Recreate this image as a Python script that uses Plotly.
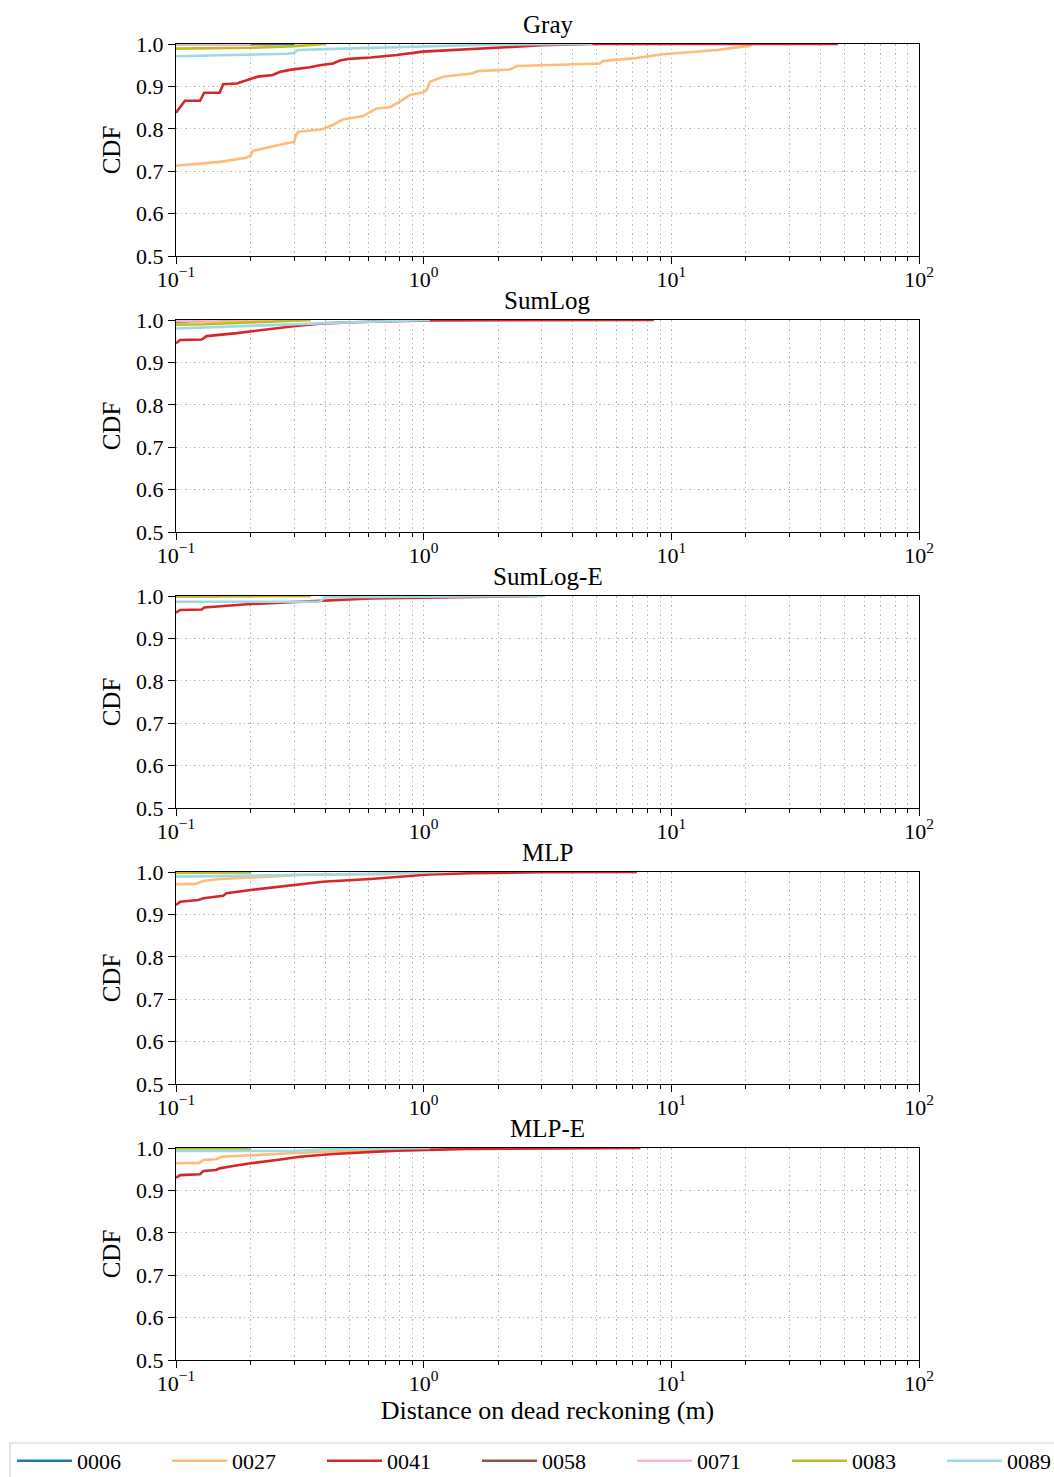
import plotly.graph_objects as go

# ---------------------------------------------------------------- data
SERIES = ["0006", "0027", "0041", "0058", "0071", "0083", "0089"]
PANELS = ["Gray", "SumLog", "SumLog-E", "MLP", "MLP-E"]
Y_TICKS = [0.5, 0.6, 0.7, 0.8, 0.9, 1.0]
X_TICKS = [0.1, 1, 10, 100]
X_TICK_TEXT = ["10<sup>−1</sup>", "10<sup>0</sup>", "10<sup>1</sup>", "10<sup>2</sup>"]

# Gray
gray_0006_x = [0.1, 0.3]
gray_0006_y = [1.0, 1.0]
gray_0027_x = [0.1, 0.15, 0.19, 0.2, 0.204, 0.232, 0.28, 0.30, 0.305, 0.312, 0.39, 0.43,
               0.472, 0.569, 0.646, 0.731, 0.802, 0.88, 1.0, 1.03, 1.06, 1.2, 1.58, 1.65,
               2.23, 2.38, 5.15, 5.3, 7.0, 9.25, 15.3, 20.2, 21.3]
gray_0027_y = [0.713, 0.722, 0.731, 0.737, 0.748, 0.756, 0.766, 0.769, 0.785, 0.793, 0.799, 0.809,
               0.822, 0.830, 0.848, 0.851, 0.864, 0.880, 0.886, 0.892, 0.911, 0.923, 0.931, 0.936,
               0.940, 0.948, 0.954, 0.960, 0.966, 0.976, 0.986, 0.995, 1.0]
gray_0041_x = [0.1, 0.1087, 0.125, 0.13, 0.15, 0.155, 0.176, 0.199, 0.214, 0.246, 0.262, 0.288,
               0.316, 0.347, 0.381, 0.43, 0.46, 0.50, 0.61, 0.78, 0.99, 1.54, 2.3, 3.0, 4.8, 47]
gray_0041_y = [0.838, 0.866, 0.866, 0.885, 0.885, 0.905, 0.907, 0.917, 0.923, 0.927, 0.934, 0.939,
               0.942, 0.945, 0.950, 0.954, 0.961, 0.965, 0.968, 0.974, 0.982, 0.988, 0.992, 0.997, 1.0, 1.0]
gray_0058_x = [0.1, 0.25]
gray_0058_y = [1.0, 1.0]
gray_0071_x = [0.1, 0.2]
gray_0071_y = [1.0, 1.0]
gray_0083_x = [0.1, 0.2, 0.3, 0.4]
gray_0083_y = [0.989, 0.991, 0.995, 1.0]
gray_0089_x = [0.1, 0.2, 0.28, 0.3, 0.31, 0.4, 1.5, 2.0, 4.8]
gray_0089_y = [0.971, 0.974, 0.977, 0.979, 0.986, 0.988, 0.996, 0.999, 1.0]

# SumLog
sumlog_0006_x = [0.1, 0.2]
sumlog_0006_y = [1.0, 1.0]
sumlog_0027_x = [0.1, 0.2, 0.35]
sumlog_0027_y = [0.996, 0.997, 1.0]
sumlog_0041_x = [0.1, 0.104, 0.127, 0.133, 0.176, 0.211, 0.242, 0.31, 0.39, 0.61, 1.05, 8.5]
sumlog_0041_y = [0.945, 0.953, 0.954, 0.962, 0.969, 0.975, 0.980, 0.9866, 0.992, 0.996, 0.999, 1.0]
sumlog_0058_x = [0.1, 0.13]
sumlog_0058_y = [0.996, 1.0]
sumlog_0071_x = [0.1, 0.15]
sumlog_0071_y = [0.998, 1.0]
sumlog_0083_x = [0.1, 0.13, 0.24, 0.35]
sumlog_0083_y = [0.989, 0.990, 0.996, 1.0]
sumlog_0089_x = [0.1, 0.13, 0.24, 0.42, 0.7, 1.06]
sumlog_0089_y = [0.980, 0.982, 0.988, 0.993, 0.997, 1.0]

# SumLog-E
sumloge_0006_x = [0.1, 0.2]
sumloge_0006_y = [1.0, 1.0]
sumloge_0027_x = [0.1, 0.35]
sumloge_0027_y = [0.999, 1.0]
sumloge_0041_x = [0.1, 0.104, 0.127, 0.13, 0.2, 0.31, 0.41, 0.61, 0.98, 2.9]
sumloge_0041_y = [0.961, 0.967, 0.968, 0.973, 0.981, 0.9866, 0.9906, 0.994, 0.996, 1.0]
sumloge_0058_x = [0.1, 0.15]
sumloge_0058_y = [1.0, 1.0]
sumloge_0071_x = [0.1, 0.15]
sumloge_0071_y = [1.0, 1.0]
sumloge_0083_x = [0.1, 0.35]
sumloge_0083_y = [1.0, 1.0]
sumloge_0089_x = [0.1, 0.38, 0.4, 3.1]
sumloge_0089_y = [0.9866, 0.9866, 0.997, 1.0]

# MLP
mlp_0006_x = [0.1, 0.2]
mlp_0006_y = [1.0, 1.0]
mlp_0027_x = [0.1, 0.12, 0.129, 0.15, 0.204, 0.316, 0.7, 1.03]
mlp_0027_y = [0.971, 0.972, 0.979, 0.9835, 0.987, 0.993, 0.995, 1.0]
mlp_0041_x = [0.1, 0.104, 0.123, 0.129, 0.155, 0.16, 0.2, 0.264, 0.3, 0.39, 0.61, 0.83, 1.05,
              1.54, 3.0, 7.26]
mlp_0041_y = [0.922, 0.930, 0.934, 0.938, 0.944, 0.950, 0.9575, 0.965, 0.969, 0.977, 0.9835, 0.989,
              0.994, 0.997, 0.9995, 1.0]
mlp_0058_x = [0.1, 0.2]
mlp_0058_y = [1.0, 1.0]
mlp_0071_x = [0.1, 0.15]
mlp_0071_y = [1.0, 1.0]
mlp_0083_x = [0.1, 0.17, 0.2]
mlp_0083_y = [0.998, 0.999, 1.0]
mlp_0089_x = [0.1, 0.25, 0.6, 1.2]
mlp_0089_y = [0.989, 0.992, 0.996, 1.0]

# MLP-E
mlpe_0006_x = [0.1, 0.2]
mlpe_0006_y = [1.0, 1.0]
mlpe_0027_x = [0.1, 0.124, 0.129, 0.145, 0.153, 0.2, 0.29, 0.39, 0.61, 1.1]
mlpe_0027_y = [0.964, 0.965, 0.9717, 0.9735, 0.9795, 0.9835, 0.9875, 0.991, 0.995, 1.0]
mlpe_0041_x = [0.1, 0.104, 0.125, 0.129, 0.145, 0.15, 0.17, 0.2, 0.264, 0.316, 0.43, 0.78, 1.5, 7.5]
mlpe_0041_y = [0.930, 0.936, 0.938, 0.946, 0.948, 0.952, 0.9575, 0.964, 0.973, 0.9795, 0.986,
               0.9937, 0.998, 1.0]
mlpe_0058_x = [0.1, 0.2]
mlpe_0058_y = [1.0, 1.0]
mlpe_0071_x = [0.1, 0.15]
mlpe_0071_y = [1.0, 1.0]
mlpe_0083_x = [0.1, 0.2]
mlpe_0083_y = [1.0, 1.0]
mlpe_0089_x = [0.1, 0.3, 0.4, 1.06]
mlpe_0089_y = [0.993, 0.993, 0.997, 1.0]

# ---------------------------------------------------------------- style
COLORS = {
    "0006": "#1f77b4", "0027": "#ffbb78", "0041": "#d62728", "0058": "#8c564b",
    "0071": "#f7b6d2", "0083": "#bcbd22", "0089": "#9edae5",
}
FONT = "Liberation Serif"
TICK_SIZE, LABEL_SIZE, TITLE_SIZE, XLABEL_SIZE = 22, 25, 25, 26
PREFIXES = ["gray", "sumlog", "sumloge", "mlp", "mlpe"]
GRID = "#b8b8b8"
DOTS = "1.5px,3px"

W, H = 1054, 1477
M_L, M_R, M_T, M_B = 176, 135, 44, 117
PANEL_H, PANEL_STEP = 212, 276
plot_w = W - M_L - M_R
plot_h = H - M_T - M_B

# legend row geometry (pixels)
LEG_LEFT, LEG_STEP, LEG_TOP, LEG_BOTTOM = 10, 155, 1443, 1482


def px_to_paper_x(px):
    return (px - M_L) / plot_w


def px_to_paper_y(py):
    return (H - M_B - py) / plot_h


def legend_id(k):
    return "legend" if k == 0 else f"legend{k + 1}"


fig = go.Figure()
g = globals()

for i, (name, pre) in enumerate(zip(PANELS, PREFIXES)):
    ax = "" if i == 0 else str(i + 1)
    for k, s in enumerate(SERIES):
        fig.add_trace(go.Scatter(
            x=g[f"{pre}_{s}_x"], y=g[f"{pre}_{s}_y"],
            mode="lines", name=s, legendgroup=s, showlegend=(i == 0),
            legend=legend_id(k),
            line=dict(color=COLORS[s], width=2.6),
            xaxis="x" + ax, yaxis="y" + ax,
        ))

    top_px = M_T + i * PANEL_STEP
    bot_px = top_px + PANEL_H
    dom = [px_to_paper_y(bot_px), px_to_paper_y(top_px)]

    minor_vals = [m * 10 ** e for e in (-1, 0, 1) for m in range(2, 10)]
    xa = dict(
        type="log", range=[-1, 2], domain=[0, 1], anchor="y" + ax,
        tickmode="array", tickvals=X_TICKS, ticktext=X_TICK_TEXT,
        ticks="outside", ticklen=7, tickwidth=1.2, tickcolor="black",
        ticklabelstandoff=-4,
        showline=True, linecolor="black", linewidth=1.3, mirror=True,
        showgrid=True, gridcolor=GRID, griddash=DOTS, gridwidth=1,
        minor=dict(tickmode="array", tickvals=minor_vals, ticks="outside", ticklen=4,
                   tickcolor="black", tickwidth=1, showgrid=True, gridcolor=GRID,
                   griddash=DOTS, gridwidth=1),
        tickfont=dict(family=FONT, size=TICK_SIZE, color="black"),
        zeroline=False,
    )
    if i == len(PANELS) - 1:
        xa["title"] = dict(text="Distance on dead reckoning (m)",
                           font=dict(family=FONT, size=XLABEL_SIZE, color="black"), standoff=6)
    ya = dict(
        range=[0.5, 1.0], domain=dom, anchor="x" + ax,
        tickmode="array", tickvals=Y_TICKS, ticktext=[f"{v:.1f}" for v in Y_TICKS],
        ticks="outside", ticklen=7, tickwidth=1.2, tickcolor="black",
        showline=True, linecolor="black", linewidth=1.3, mirror=True,
        showgrid=True, gridcolor=GRID, griddash=DOTS, gridwidth=1,
        tickfont=dict(family=FONT, size=TICK_SIZE, color="black"),
        title=dict(text="CDF", font=dict(family=FONT, size=LABEL_SIZE, color="black"), standoff=8),
        zeroline=False,
    )
    fig.layout["xaxis" + ax] = xa
    fig.layout["yaxis" + ax] = ya

    fig.add_annotation(
        text=name, x=0.5, y=dom[1], xref="paper", yref="paper",
        xanchor="center", yanchor="bottom", yshift=4, showarrow=False,
        font=dict(family=FONT, size=TITLE_SIZE, color="black"),
    )

# one single-entry legend per series, laid out in a row inside a shared frame
for k in range(len(SERIES)):
    fig.layout[legend_id(k)] = dict(
        orientation="h",
        x=px_to_paper_x(LEG_LEFT + 2 + k * LEG_STEP), xanchor="left",
        y=px_to_paper_y(LEG_TOP - 3), yanchor="top",
        borderwidth=0, bgcolor="rgba(0,0,0,0)",
        itemwidth=55,
        font=dict(family=FONT, size=TICK_SIZE, color="black"),
    )

fig.add_shape(
    type="rect", xref="paper", yref="paper",
    x0=px_to_paper_x(LEG_LEFT), x1=px_to_paper_x(LEG_LEFT + 1100),
    y0=px_to_paper_y(LEG_BOTTOM), y1=px_to_paper_y(LEG_TOP),
    line=dict(color="#d0d0d0", width=1.2), fillcolor="rgba(0,0,0,0)", layer="below",
)

fig.update_layout(
    width=W, height=H,
    margin=dict(l=M_L, r=M_R, t=M_T, b=M_B, autoexpand=False),
    paper_bgcolor="white", plot_bgcolor="white",
    font=dict(family=FONT, color="black"),
    showlegend=True,
)

fig.write_html("out.html")
